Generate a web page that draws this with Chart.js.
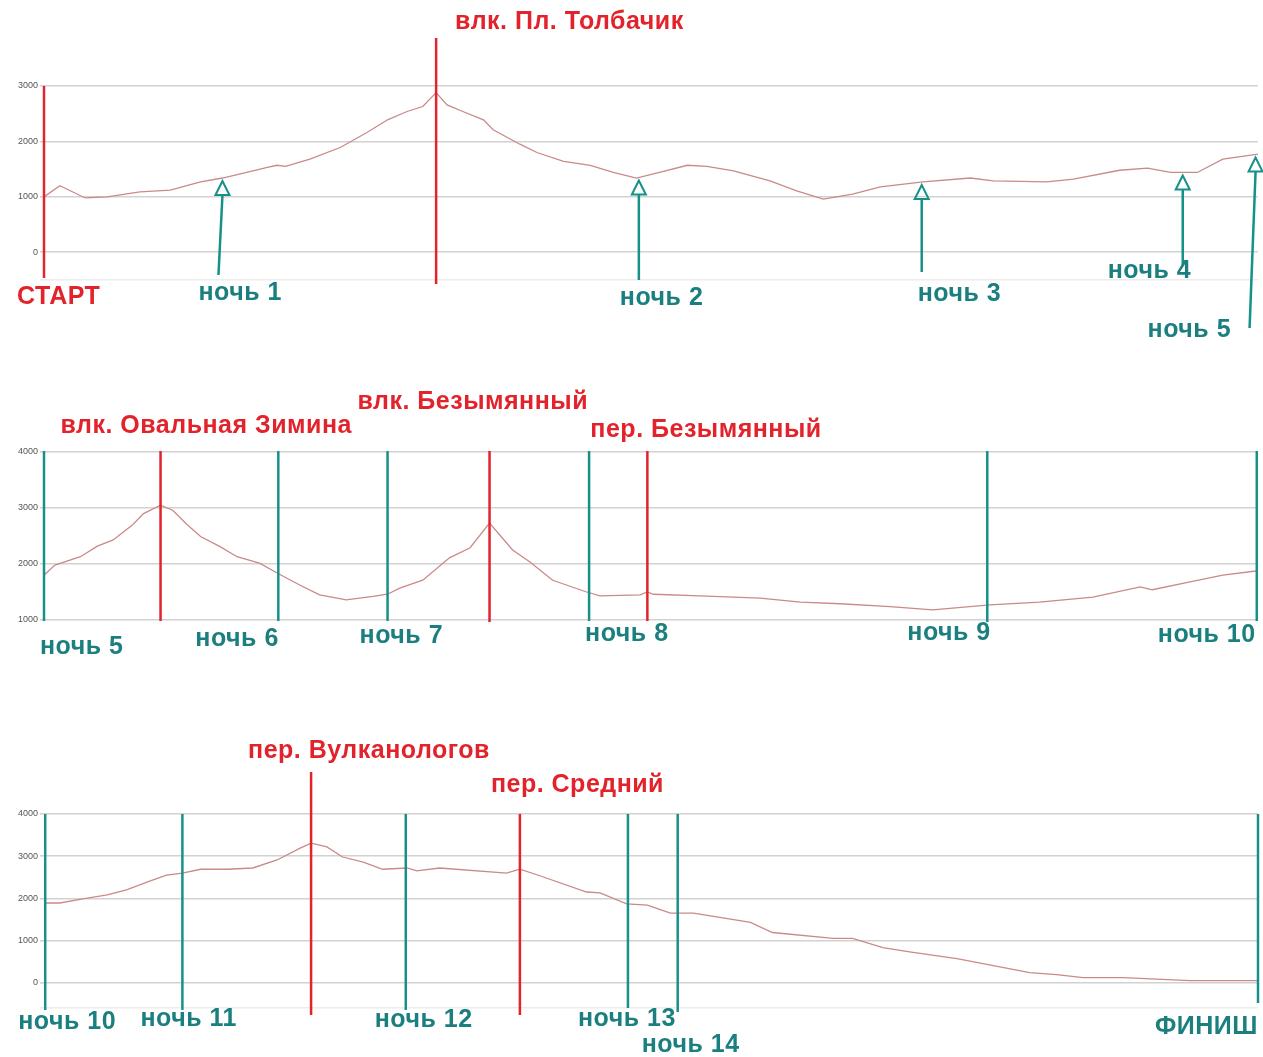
<!DOCTYPE html>
<html>
<head>
<meta charset="utf-8">
<script src="https://cdn.jsdelivr.net/npm/chart.js@4/dist/chart.umd.min.js"></script>
<style>
body { margin: 0; background: #fff; width: 1263px; height: 1057px; position: relative; overflow: hidden; }
canvas { position: absolute; left: 0; }
</style>
</head>
<body>
<canvas id="p1" width="1263" height="345" style="top:0px"></canvas>
<canvas id="p2" width="1263" height="290" style="top:380px"></canvas>
<canvas id="p3" width="1263" height="327" style="top:730px"></canvas>
<script>
// участок 1: старт - ночь 5 (дистанция в % участка, высота в м)
var dist1 = [0, 1.3, 3.4, 5.2, 7.9, 10.4, 12.9, 14.7, 16.1, 18.4, 19.2, 19.9, 21.9, 24.4, 26.6, 28.3, 29.9, 31.2, 32.3,
    33.2, 34.5, 36.2, 37.0, 39.2, 40.6, 42.8, 45.0, 46.9, 48.8, 50.7, 53.0, 54.6, 56.8, 59.8, 62.0, 64.2, 66.6, 68.9,
    72.4, 76.3, 78.2, 82.6, 84.8, 88.6, 90.9, 92.8, 95.0, 97.1, 100];
var elev1 = [1000, 1200, 980, 1000, 1090, 1120, 1270, 1340, 1410, 1530, 1570, 1550, 1680, 1890, 2160, 2390, 2540, 2630, 2880,
    2660, 2540, 2390, 2210, 1950, 1800, 1640, 1570, 1440, 1340, 1440, 1570, 1550, 1470, 1290, 1110, 960, 1050, 1180,
    1270, 1340, 1290, 1270, 1320, 1480, 1520, 1440, 1440, 1680, 1770];
var ticks1 = [-500, 0, 1000, 2000, 3000];
var names1 = ['СТАРТ', 'влк. Пл. Толбачик', 'ночь 1', 'ночь 2', 'ночь 3', 'ночь 4', 'ночь 5'];
var marks1 = [0, 32.3, 14.7, 49.0, 72.3, 93.8, 99.8];
var kinds1 = ['red', 'red', 'arrow', 'arrow', 'arrow', 'arrow', 'arrow'];

// участок 2: ночь 5 - ночь 10
var dist2 = [0, 0.9, 3.0, 4.4, 5.7, 7.3, 8.2, 9.6, 10.6, 11.8, 12.9, 14.5, 15.9, 17.8, 19.2, 21.1, 22.7, 24.9, 27.1, 28.3,
    29.3, 31.2, 33.4, 35.1, 36.7, 38.6, 40.0, 41.9, 44.7, 45.8, 49.1, 49.7, 50.2, 54.0, 59.0, 62.3, 65.6, 69.7, 73.2,
    77.9, 82.0, 86.4, 90.3, 91.3, 94.4, 97.1, 100];
var elev2 = [1800, 1980, 2130, 2320, 2430, 2700, 2900, 3050, 2960, 2700, 2490, 2310, 2130, 2010, 1840, 1620, 1450, 1360, 1420, 1460,
    1570, 1710, 2110, 2290, 2730, 2250, 2040, 1710, 1500, 1430, 1450, 1500, 1460, 1430, 1390, 1320, 1290, 1240, 1180,
    1270, 1320, 1410, 1590, 1540, 1680, 1800, 1880];
var ticks2 = [1000, 2000, 3000, 4000];
var names2 = ['ночь 5', 'влк. Овальная Зимина', 'ночь 6', 'ночь 7', 'влк. Безымянный', 'ночь 8', 'пер. Безымянный', 'ночь 9', 'ночь 10'];
var marks2 = [0, 9.6, 19.3, 28.3, 36.7, 44.9, 49.7, 77.7, 99.9];
var kinds2 = ['teal', 'red', 'teal', 'teal', 'red', 'teal', 'red', 'teal', 'teal'];

// участок 3: ночь 10 - финиш
var dist3 = [0, 1.3, 3.2, 5.2, 6.8, 8.7, 10.1, 11.4, 12.9, 15.1, 17.2, 19.2, 21.1, 22.0, 23.3, 24.6, 26.3, 27.9, 29.9, 30.7,
    32.6, 38.1, 39.2, 40.9, 44.7, 45.8, 48.0, 49.7, 51.6, 53.5, 58.2, 60.0, 65.0, 66.6, 69.1, 71.3, 75.2, 81.2, 83.4,
    85.6, 88.9, 94.4, 100];
var elev3 = [1890, 1890, 1985, 2080, 2200, 2410, 2550, 2600, 2690, 2690, 2720, 2910, 3190, 3310, 3220, 2980, 2860, 2690, 2720, 2650,
    2720, 2600, 2690, 2530, 2150, 2130, 1870, 1840, 1650, 1650, 1430, 1190, 1050, 1050, 830, 730, 570, 240, 190,
    120, 120, 50, 50];
var ticks3 = [-600, 0, 1000, 2000, 3000, 4000];
var names3 = ['ночь 10', 'ночь 11', 'пер. Вулканологов', 'ночь 12', 'пер. Средний', 'ночь 13', 'ночь 14', 'ФИНИШ'];
var marks3 = [0.1, 11.4, 22.0, 29.8, 39.2, 48.1, 52.2, 100];
var kinds3 = ['teal', 'teal', 'red', 'teal', 'red', 'teal', 'teal', 'teal'];

var RED = '#e2232b';
var TEAL = '#15918a';
var TEAL_TEXT = '#1b7f7f';
var FONT = 'bold 25px "Liberation Sans", Arial, sans-serif';

function elevAt(d, e, x) {
    for (var i = 1; i < d.length; i++) {
        if (x <= d[i]) {
            var t = (x - d[i - 1]) / (d[i] - d[i - 1]);
            return e[i - 1] + t * (e[i] - e[i - 1]);
        }
    }
    return e[e.length - 1];
}

function markerPlugin(p) {
    return {
        id: 'markers',
        afterDatasetsDraw: function (chart) {
            var ctx = chart.ctx, xs = chart.scales.x, ys = chart.scales.y, area = chart.chartArea;
            ctx.save();
            for (var i = 0; i < p.names.length; i++) {
                var px = xs.getPixelForValue(p.marks[i]);
                var kind = p.kinds[i];
                var top = p.lay.top[i] != null ? p.lay.top[i] : area.top;
                var bottom = p.lay.bottom[i] != null ? p.lay.bottom[i] : area.bottom;
                var lean = p.lay.lean ? p.lay.lean[i] : 0;
                ctx.strokeStyle = kind == 'red' ? RED : TEAL;
                if (kind == 'arrow') {
                    // стрелка ночёвки упирается в профиль
                    var tip = ys.getPixelForValue(elevAt(p.dist, p.elev, p.marks[i])) + 3;
                    ctx.lineWidth = 2;
                    ctx.beginPath();
                    ctx.moveTo(px, tip);
                    ctx.lineTo(px - 7, tip + 14);
                    ctx.lineTo(px + 7, tip + 14);
                    ctx.closePath();
                    ctx.stroke();
                    ctx.lineWidth = 2.5;
                    ctx.beginPath();
                    ctx.moveTo(px, tip + 14);
                    ctx.lineTo(px + lean, bottom);
                    ctx.stroke();
                } else {
                    ctx.lineWidth = 2.5;
                    ctx.beginPath();
                    ctx.moveTo(px, top);
                    ctx.lineTo(px + lean, bottom);
                    ctx.stroke();
                }
                ctx.fillStyle = kind == 'red' ? RED : TEAL_TEXT;
                ctx.font = FONT;
                ctx.letterSpacing = '0.5px';
                ctx.textBaseline = 'middle';
                ctx.textAlign = 'left';
                ctx.fillText(p.names[i], px + p.lay.dx[i], p.lay.y[i]);
            }
            ctx.restore();
        }
    };
}

function drawPanel(id, p) {
    var pts = p.dist.map(function (d, i) { return { x: d, y: p.elev[i] }; });
    new Chart(document.getElementById(id).getContext('2d'), {
        type: 'line',
        data: {
            datasets: [{
                data: pts,
                borderColor: '#c98a88',
                borderWidth: 1.3,
                pointRadius: 0,
                tension: 0,
                fill: false
            }]
        },
        options: {
            responsive: false,
            animation: false,
            devicePixelRatio: 1,
            layout: { padding: { top: p.lay.padTop, bottom: p.lay.padBottom, left: 0, right: 5 } },
            plugins: { legend: { display: false }, tooltip: { enabled: false } },
            scales: {
                x: { type: 'linear', min: 0, max: 100, display: false },
                y: {
                    min: p.ticks[0],
                    max: p.ticks[p.ticks.length - 1],
                    afterBuildTicks: function (s) {
                        s.ticks = p.ticks.map(function (v) { return { value: v }; });
                    },
                    afterFit: function (s) { s.width = 44; },
                    border: { display: false },
                    grid: {
                        color: function (c) { return c.tick && c.tick.value % 1000 == 0 ? '#d2d2d2' : '#ececec'; },
                        lineWidth: 1.6,
                        tickLength: 4
                    },
                    ticks: {
                        font: { size: 9, family: 'Arial' },
                        color: '#555',
                        padding: 2,
                        callback: function (v) { return v % 1000 == 0 ? v : ''; }
                    }
                }
            }
        },
        plugins: [markerPlugin(p)]
    });
}

drawPanel('p1', {
    dist: dist1, elev: elev1, ticks: ticks1, names: names1, marks: marks1, kinds: kinds1,
    lay: {
        padTop: 86, padBottom: 65,
        dx: [-27, 19, -24, -19, -4, -75, -108],
        y: [297, 22, 293, 298, 294, 271, 330],
        top: [null, 38, null, null, null, null, null],
        bottom: [278, 284, 275, 280, 272, 265, 328],
        lean: [0, 0, -4, 0, 0, 0, -6]
    }
});

drawPanel('p2', {
    dist: dist2, elev: elev2, ticks: ticks2, names: names2, marks: marks2, kinds: kinds2,
    lay: {
        padTop: 72, padBottom: 50,
        dx: [-4, -100, -83, -28, -132, -4, -57, -80, -99],
        y: [267, 46, 259, 256, 22, 254, 50, 253, 255],
        top: [71, 71, 71, 71, 71, 71, 71, 71, 71],
        bottom: [241, 241, 241, 241, 242, 241, 241, 242, 241]
    }
});

drawPanel('p3', {
    dist: dist3, elev: elev3, ticks: ticks3, names: names3, marks: marks3, kinds: kinds3,
    lay: {
        padTop: 84, padBottom: 49,
        dx: [-27, -42, -63, -31, -29, -50, -36, -103],
        y: [292, 289, 21, 290, 55, 289, 315, 297],
        top: [84, 84, 42, 84, 84, 84, 84, 84],
        bottom: [280, 280, 285, 280, 285, 278, 282, 273]
    }
});
</script>
</body>
</html>
